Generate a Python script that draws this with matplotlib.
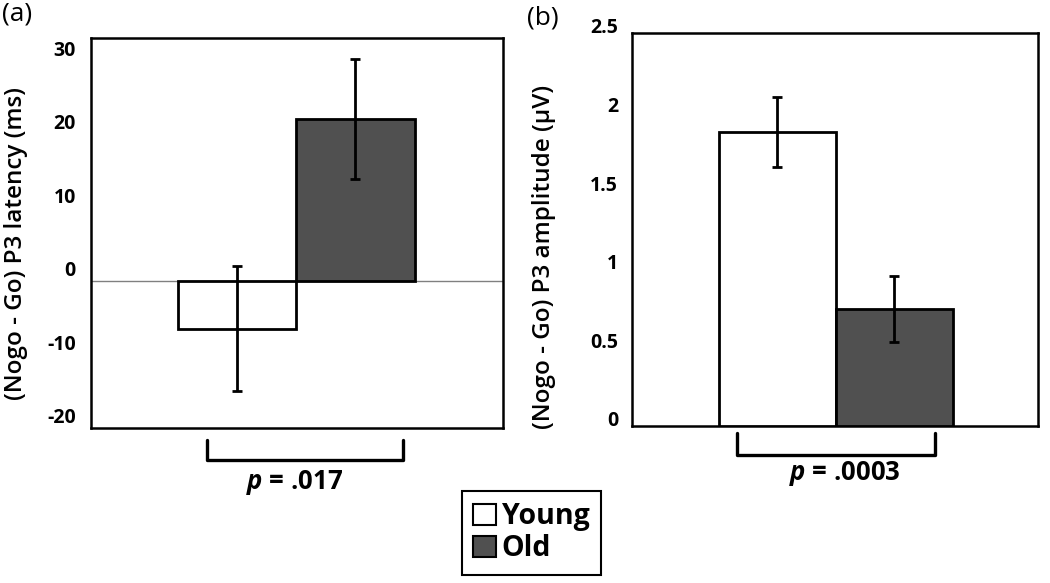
import matplotlib
matplotlib.use("Agg")
import matplotlib.pyplot as plt
import matplotlib.transforms as mtransforms
from matplotlib.patches import Patch

plt.rcParams['font.family'] = ['Open Sans', 'DejaVu Sans']
plt.rcParams['mathtext.fontset'] = 'custom'
plt.rcParams['mathtext.it'] = 'Open Sans:italic:bold'

# data
groups = ['Young', 'Old']
colors = ['white', '#505050']
latency = [-6.5, 22.0]
latency_err = [8.5, 8.2]
amplitude = [1.87, 0.745]
amplitude_err = [0.22, 0.21]
latency_ticks = [-20, -10, 0, 10, 20, 30]
amplitude_ticks = [0, 0.5, 1, 1.5, 2, 2.5]
amplitude_ticklabels = ['0', '0.5', '1', '1.5', '2', '2.5']
p_texts = ['$p$ = .017', '$p$ = .0003']

fig = plt.figure(figsize=(10.5, 5.83), dpi=100)
ax_a = fig.add_axes([0.0867, 0.2659, 0.3924, 0.6690])
ax_b = fig.add_axes([0.6019, 0.2693, 0.3867, 0.6741])

x = [0, 1]


def draw_panel(ax, vals, errs, ticks, ticklabels, ylim, xlim, shift_px, pad):
    ax.bar(x, vals, width=1.0, color=colors, edgecolor='black', linewidth=2, zorder=3)
    ax.errorbar(x, vals, yerr=errs, fmt='none', ecolor='black', elinewidth=2,
                capsize=3.5, capthick=2, zorder=4)
    ax.set_xlim(*xlim)
    ax.set_ylim(*ylim)
    ax.set_xticks([])
    ax.set_yticks(ticks)
    ax.set_yticklabels(ticklabels, fontsize=14, fontweight='bold')
    ax.tick_params(axis='y', length=0, pad=pad)
    for s in ax.spines.values():
        s.set_linewidth(1.8)
    off = mtransforms.ScaledTranslation(0, shift_px / 100, fig.dpi_scale_trans)
    for lab in ax.get_yticklabels():
        lab.set_transform(lab.get_transform() + off)


draw_panel(ax_a, latency, latency_err, latency_ticks, [str(t) for t in latency_ticks],
           (-20, 33), (-1.24, 2.25), 12, 11)
ax_a.axhline(0, color='#808080', linewidth=1, zorder=2)
draw_panel(ax_b, amplitude, amplitude_err, amplitude_ticks, amplitude_ticklabels,
           (0, 2.5), (-1.24, 2.23), 7, 10)

ax_a.set_ylabel('(Nogo - Go) P3 latency (ms)', fontsize=17.5, fontweight='semibold')
ax_a.yaxis.set_label_coords(-0.153, 0.474)
ax_b.set_ylabel('(Nogo - Go) P3 amplitude (\u00b5V)', fontsize=17.5, fontweight='semibold')
ax_b.yaxis.set_label_coords(-0.187, 0.43)


def bracket(ax, x0, x1, ytop, ybot, ytext, xtext, text):
    ax.plot([x0, x0, x1, x1], [ytop, ybot, ybot, ytop], transform=ax.transAxes,
            color='black', linewidth=2.4, solid_joinstyle='round',
            solid_capstyle='round', clip_on=False)
    ax.text(xtext, ytext, text, transform=ax.transAxes, ha='center', va='center',
            fontsize=18.5, fontweight='bold')


bracket(ax_a, 0.282, 0.757, -0.031, -0.082, -0.141, 0.495, p_texts[0])
bracket(ax_b, 0.259, 0.746, -0.018, -0.074, -0.120, 0.525, p_texts[1])

fig.text(0.002, 0.997, '(a)', fontsize=19, va='top', ha='left')
fig.text(0.502, 0.99, '(b)', fontsize=19, va='top', ha='left')

handles = [Patch(facecolor=c, edgecolor='black', linewidth=1.5) for c in colors]
leg = fig.legend(handles, groups, loc='center', bbox_to_anchor=(0.506, 0.086),
                 fancybox=False, edgecolor='black', framealpha=1,
                 prop={'size': 20.5, 'weight': 'bold'}, handlelength=0.8,
                 handleheight=0.8, handletextpad=0.2, labelspacing=0.1,
                 borderpad=0.4, borderaxespad=0)
leg.get_frame().set_linewidth(1.5)

fig.savefig('out.png', dpi=100)
